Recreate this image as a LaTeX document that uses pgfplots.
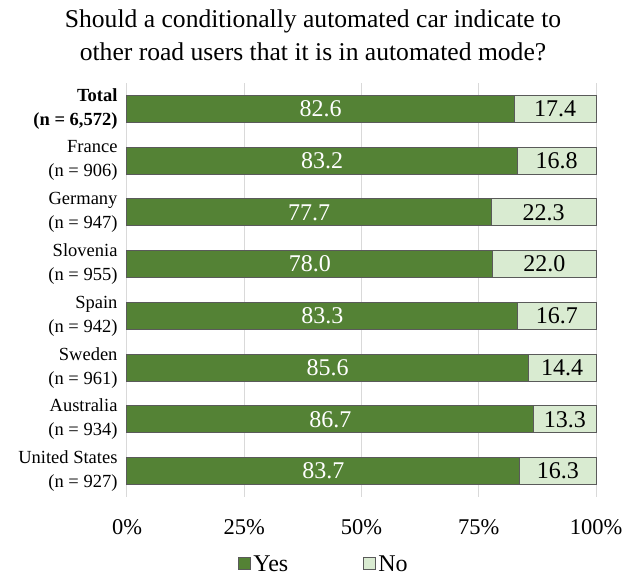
\documentclass[border=0pt]{standalone}
\usepackage{fontspec}
\setmainfont{Liberation Serif}
\usepackage{pgfplots}
\pgfplotsset{compat=1.18}
\definecolor{yesgreen}{HTML}{548235}
\definecolor{nogreen}{HTML}{D9EBD1}
\definecolor{edgegray}{HTML}{5A5A5A}
\definecolor{gridgray}{HTML}{D9D9D9}
\begin{document}
\begin{tikzpicture}
\begin{axis}[
  at={(0,0)}, anchor=south west,
  scale only axis,
  width=469pt, height=414pt,
  clip=false,
  xbar stacked,
  bar width=27pt,
  xmin=0, xmax=100,
  ymin=-0.5, ymax=7.5,
  y dir=reverse,
  xtick={0,25,50,75,100},
  xticklabels={0\%,25\%,50\%,75\%,100\%},
  ytick={0,...,7},
  yticklabels={
    {\textbf{Total}\\\textbf{(n = 6,572)}},
    {France\\(n = 906)},
    {Germany\\(n = 947)},
    {Slovenia\\(n = 955)},
    {Spain\\(n = 942)},
    {Sweden\\(n = 961)},
    {Australia\\(n = 934)},
    {United States\\(n = 927)}},
  yticklabel style={align=right, font=\fontsize{18.5}{24}\selectfont, xshift=-6pt},
  xticklabel style={font=\fontsize{22.5}{26}\selectfont, yshift=-19pt},
  major tick length=0pt,
  xmajorgrids,
  grid style={gridgray, line width=1pt},
  axis line style={draw=none},
  /pgf/number format/assume math mode=true,
  point meta=rawx,
  nodes near coords={\pgfmathprintnumber[fixed,fixed zerofill,precision=1]{\pgfplotspointmeta}},
  % stacked bars put each value label in the middle of its own segment
  every node near coord/.append style={anchor=center, font=\fontsize{24}{26}\selectfont},
  legend style={at={(0.42,-0.162)}, anchor=center, draw=none, legend columns=2,
    inner sep=1pt, font=\fontsize{24}{26}\selectfont,
    /tikz/every even column/.append style={column sep=73pt}},
  legend image code/.code={\draw[#1, line width=1pt] (0pt,-5.5pt) rectangle (12pt,6.5pt);},
]
\addplot[fill=yesgreen, draw=edgegray, line width=1pt,
  every node near coord/.append style={text=white}]
  coordinates {(82.6,0) (83.2,1) (77.7,2) (78.0,3) (83.3,4) (85.6,5) (86.7,6) (83.7,7)};
\addlegendentry{Yes}
\addplot[fill=nogreen, draw=edgegray, line width=1pt,
  every node near coord/.append style={text=black}]
  coordinates {(17.4,0) (16.8,1) (22.3,2) (22.0,3) (16.7,4) (14.4,5) (13.3,6) (16.3,7)};
\addlegendentry{No}
\end{axis}
\node[align=center, font=\fontsize{25.6}{33}\selectfont] at (186pt,462pt)
  {Should a conditionally automated car indicate to\\other road users that it is in automated mode?};
\pgfresetboundingbox
\path (-127pt,-79pt) rectangle (499pt,497pt);
\end{tikzpicture}
\end{document}
